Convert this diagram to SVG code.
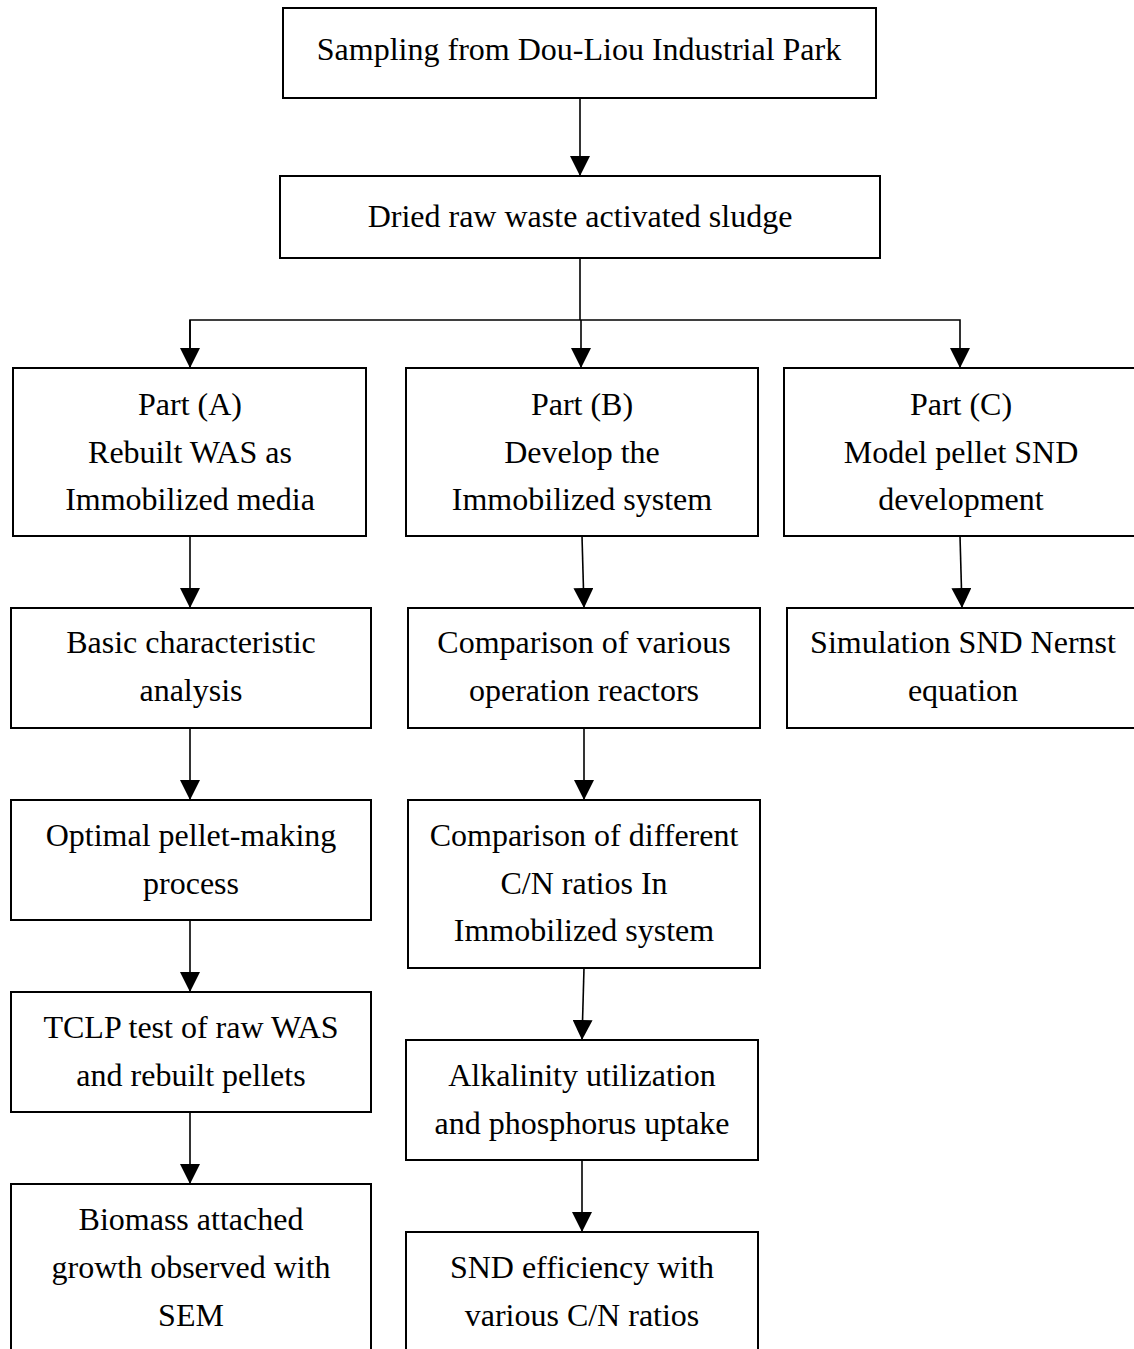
<svg xmlns="http://www.w3.org/2000/svg" width="1134" height="1349" viewBox="0 0 1134 1349">
<style>
.box{fill:#fff;stroke:#000;stroke-width:2}
.t{font-family:"Liberation Serif","Times New Roman",serif;font-size:32px;fill:#000;text-anchor:middle}
.c{fill:none;stroke:#000;stroke-width:1.6}
</style>
<defs>
<marker id="ah" markerUnits="userSpaceOnUse" markerWidth="20" markerHeight="20" refX="20" refY="10" orient="auto" viewBox="0 0 20 20">
<path d="M0,0 L20,10 L0,20 z" fill="#000"/>
</marker>
</defs>
<rect width="1134" height="1349" fill="#fff"/>
<g id="connectors">
<line class="c" x1="580" y1="98" x2="580" y2="176" marker-end="url(#ah)"/>
<polyline class="c" points="580,258 580,320"/>
<polyline class="c" points="190,368 190,320 960,320 960,368" marker-end="url(#ah)"/>
<line class="c" x1="190" y1="320" x2="190" y2="368" marker-end="url(#ah)"/>
<line class="c" x1="581" y1="320" x2="581" y2="368" marker-end="url(#ah)"/>
<line class="c" x1="190" y1="536" x2="190" y2="608" marker-end="url(#ah)"/>
<line class="c" x1="582" y1="536" x2="584" y2="608" marker-end="url(#ah)"/>
<line class="c" x1="960" y1="536" x2="962" y2="608" marker-end="url(#ah)"/>
<line class="c" x1="190" y1="728" x2="190" y2="800" marker-end="url(#ah)"/>
<line class="c" x1="584" y1="728" x2="584" y2="800" marker-end="url(#ah)"/>
<line class="c" x1="190" y1="920" x2="190" y2="992" marker-end="url(#ah)"/>
<line class="c" x1="584" y1="968" x2="582" y2="1040" marker-end="url(#ah)"/>
<line class="c" x1="190" y1="1112" x2="190" y2="1184" marker-end="url(#ah)"/>
<line class="c" x1="582" y1="1160" x2="582" y2="1232" marker-end="url(#ah)"/>
</g>
<g id="n1"><rect class="box" x="283" y="8" width="593" height="90"/><text class="t" x="579" y="60">Sampling from Dou-Liou Industrial Park</text></g>
<g id="n2"><rect class="box" x="280" y="176" width="600" height="82"/><text class="t" x="580" y="227">Dried raw waste activated sludge</text></g>
<g id="nA"><rect class="box" x="13" y="368" width="353" height="168"/><text class="t" x="190" y="415">Part (A)</text><text class="t" x="190" y="463">Rebuilt WAS as</text><text class="t" x="190" y="510">Immobilized media</text></g>
<g id="nB"><rect class="box" x="406" y="368" width="352" height="168"/><text class="t" x="582" y="415">Part (B)</text><text class="t" x="582" y="463">Develop the</text><text class="t" x="582" y="510">Immobilized system</text></g>
<g id="nC"><rect class="box" x="784" y="368" width="360" height="168"/><text class="t" x="961" y="415">Part (C)</text><text class="t" x="961" y="463">Model pellet SND</text><text class="t" x="961" y="510">development</text></g>
<g id="nA2"><rect class="box" x="11" y="608" width="360" height="120"/><text class="t" x="191" y="653">Basic characteristic</text><text class="t" x="191" y="701">analysis</text></g>
<g id="nB2"><rect class="box" x="408" y="608" width="352" height="120"/><text class="t" x="584" y="653">Comparison of various</text><text class="t" x="584" y="701">operation reactors</text></g>
<g id="nC2"><rect class="box" x="787" y="608" width="360" height="120"/><text class="t" x="963" y="653">Simulation SND Nernst</text><text class="t" x="963" y="701">equation</text></g>
<g id="nA3"><rect class="box" x="11" y="800" width="360" height="120"/><text class="t" x="191" y="846">Optimal pellet-making</text><text class="t" x="191" y="894">process</text></g>
<g id="nB3"><rect class="box" x="408" y="800" width="352" height="168"/><text class="t" x="584" y="846">Comparison of different</text><text class="t" x="584" y="894">C/N ratios In</text><text class="t" x="584" y="941">Immobilized system</text></g>
<g id="nA4"><rect class="box" x="11" y="992" width="360" height="120"/><text class="t" x="191" y="1038">TCLP test of raw WAS</text><text class="t" x="191" y="1086">and rebuilt pellets</text></g>
<g id="nB4"><rect class="box" x="406" y="1040" width="352" height="120"/><text class="t" x="582" y="1086">Alkalinity utilization</text><text class="t" x="582" y="1134">and phosphorus uptake</text></g>
<g id="nA5"><rect class="box" x="11" y="1184" width="360" height="180"/><text class="t" x="191" y="1230">Biomass attached</text><text class="t" x="191" y="1278">growth observed with</text><text class="t" x="191" y="1326">SEM</text></g>
<g id="nB5"><rect class="box" x="406" y="1232" width="352" height="140"/><text class="t" x="582" y="1278">SND efficiency with</text><text class="t" x="582" y="1326">various C/N ratios</text></g>
</svg>
